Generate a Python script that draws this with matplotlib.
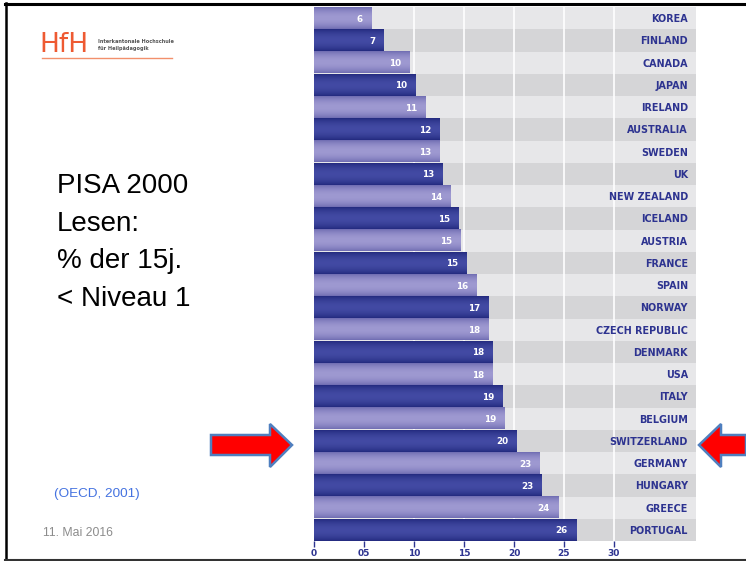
import numpy as np
import matplotlib
matplotlib.use("Agg")
import matplotlib.pyplot as plt
from matplotlib.patches import Polygon

# PISA 2000 Lesen: % der 15-Jährigen unter Niveau 1 (OECD, 2001)
laender = ["KOREA", "FINLAND", "CANADA", "JAPAN", "IRELAND", "AUSTRALIA",
           "SWEDEN", "UK", "NEW ZEALAND", "ICELAND", "AUSTRIA", "FRANCE",
           "SPAIN", "NORWAY", "CZECH REPUBLIC", "DENMARK", "USA", "ITALY",
           "BELGIUM", "SWITZERLAND", "GERMANY", "HUNGARY", "GREECE", "PORTUGAL"]
werte = [5.8, 7.0, 9.6, 10.2, 11.2, 12.6, 12.6, 12.9, 13.7, 14.5, 14.7, 15.3,
         16.3, 17.5, 17.5, 17.9, 17.9, 18.9, 19.1, 20.3, 22.6, 22.8, 24.5, 26.3]
labels = [6, 7, 10, 10, 11, 12, 13, 13, 14, 15, 15, 15,
          16, 17, 18, 18, 18, 19, 19, 20, 23, 23, 24, 26]
x_ticks = [0, 5, 10, 15, 20, 25, 30]
x_ticklabels = ["0", "05", "10", "15", "20", "25", "30"]

NAVY = "#2d3390"

fig = plt.figure(figsize=(7.46, 5.61), dpi=100)
fig.patch.set_facecolor("white")

# Diagramm
ax = fig.add_axes([314 / 746, 20 / 561, 382 / 746, 534 / 561])
ax.set_facecolor("none")
XMAX = 38.2
n = len(laender)

# Zeilenhintergrund abwechselnd hell / dunkel
for i in range(n):
    farbe = "#e7e7e9" if i % 2 == 0 else "#d5d5d7"
    ax.barh(i, XMAX, height=1.0, color=farbe, zorder=0)

# weisse Gitterlinien
for g in [10, 15, 20, 25, 30]:
    ax.axvline(g, color="white", lw=1.2, zorder=1)

# Balken mit Farbverlauf
t = np.linspace(0, 1, 32)
profil = np.sin(np.pi * t) ** 0.8
hell_rand, hell_mitte = np.array([0.44, 0.43, 0.70]), np.array([0.62, 0.60, 0.82])
dunkel_rand, dunkel_mitte = np.array([0.14, 0.17, 0.50]), np.array([0.26, 0.29, 0.64])
for i, w in enumerate(werte):
    if i % 2 == 0:
        rand, mitte = hell_rand, hell_mitte
    else:
        rand, mitte = dunkel_rand, dunkel_mitte
    grad = rand[None, :] + (mitte - rand)[None, :] * profil[:, None]
    grad = grad[:, None, :]
    h = 0.48
    ax.imshow(grad, extent=(0, w, i + h, i - h), aspect="auto",
              interpolation="bilinear", zorder=2)
    ax.text(w - 0.9, i + 0.05, str(labels[i]), ha="right", va="center",
            color="white", fontsize=6.3, fontweight="bold", zorder=3)
    ax.text(37.4, i + 0.05, laender[i], ha="right", va="center",
            color=NAVY, fontsize=6.9, fontweight="bold", zorder=3)

ax.set_xlim(0, XMAX)
ax.set_ylim(n - 0.5, -0.5)
for s in ax.spines.values():
    s.set_visible(False)
ax.set_yticks([])
ax.set_xticks(x_ticks)
ax.set_xticklabels(x_ticklabels)
ax.tick_params(axis="x", colors=NAVY, length=4, width=1, pad=2, labelsize=6.5)
for lab in ax.get_xticklabels():
    lab.set_fontweight("bold")

# Folienelemente im Pixelraster
deko = fig.add_axes([0, 0, 1, 1], zorder=5)
deko.set_xlim(0, 746)
deko.set_ylim(561, 0)
deko.axis("off")

# Rahmen
deko.plot([5, 746], [3.5, 3.5], color="black", lw=2.2)
deko.plot([5.5, 5.5], [3, 559], color="black", lw=1.8)
deko.plot([5, 746], [559.5, 559.5], color="#333333", lw=1.5)

# Logo
deko.text(39, 52, "HfH", color="#ee5a32", fontsize=19, va="baseline",
          family="DejaVu Sans")
deko.text(98, 43, "Interkantonale Hochschule", color="#555555", fontsize=3.6,
          va="baseline", fontweight="bold")
deko.text(98, 50, "für Heilpädagogik", color="#555555", fontsize=3.6,
          va="baseline", fontweight="bold")
deko.plot([42, 172], [58, 58], color="#f2906c", lw=1)

# Titel links
for txt, yb in zip(["PISA 2000", "Lesen:", "% der 15j.", "< Niveau 1"],
                   [193, 231, 268, 306]):
    deko.text(57, yb, txt, fontsize=20, va="baseline", color="black",
              family="Liberation Sans")

deko.text(54, 497, "(OECD, 2001)", color="#4472e0", fontsize=9.7,
          va="baseline", family="Liberation Sans")
deko.text(43, 536, "11. Mai 2016", color="#8c8c8c", fontsize=8.8,
          va="baseline", family="Liberation Sans")

# Pfeile
pfeil_l = [(211, 435), (270, 435), (270, 424), (292, 445), (270, 467),
           (270, 455), (211, 455)]
pfeil_r = [(746, 435), (721, 435), (721, 424), (699, 445), (721, 467),
           (721, 455), (746, 455)]
for pts in [pfeil_l, pfeil_r]:
    deko.add_patch(Polygon(pts, closed=True, facecolor="#ff0000",
                           edgecolor="#4f7fbf", lw=1.8, joinstyle="miter"))

fig.savefig("out.png", dpi=100)
